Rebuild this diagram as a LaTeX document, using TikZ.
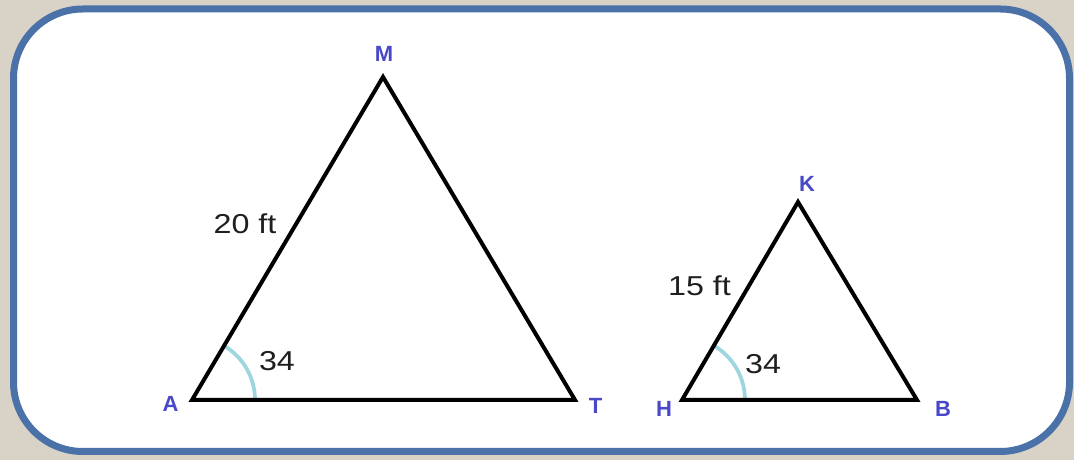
\documentclass[tikz,border=0pt]{standalone}
\usepackage{fontspec}
\setmainfont{Liberation Sans}
\newfontfamily\measfont[FakeStretch=1.18]{Liberation Sans}
\usepackage{tikz}
\usetikzlibrary{positioning,calc,backgrounds}
\definecolor{parchment}{HTML}{D9D3C7}
\definecolor{frameblue}{HTML}{4A72A8}
\definecolor{vertexblue}{HTML}{4848C8}
\definecolor{anglecyan}{HTML}{9ED6E0}
\tikzset{
  % ram
  frame/.style={draw=frameblue,fill=white,line width=5.25pt,rounded corners=52pt},
  % trianglar
  side/.style={draw=black,line width=3pt,line join=miter},
  anglearc/.style={draw=anglecyan,line width=2.8pt},
  vlab/.style={text=vertexblue,inner sep=0pt,
               font=\fontsize{16.5}{19}\selectfont\bfseries},
  mlab/.style={text=black!88,inner sep=0pt,font=\measfont\fontsize{20.5}{24}\selectfont},
}
\begin{document}
\begin{tikzpicture}[x=0.75pt,y=0.75pt]
  \fill[parchment] (0,0) rectangle (1074,460);
  \useasboundingbox (0,0) rectangle (1074,460);
  \path[frame] (13.5,8.5) rectangle (1069.5,451);
  % stora triangeln
  \coordinate (A) at (192,60);
  \coordinate (M) at (383,383);
  \coordinate (T) at (575,60);
  % lilla triangeln
  \coordinate (H) at (682,60);
  \coordinate (K) at (798,258);
  \coordinate (B) at (917,60);
  \draw[anglearc] (A) ++(63,0) arc[start angle=0,end angle=59.4,radius=63];
  \draw[anglearc] (H) ++(63,0) arc[start angle=0,end angle=59.6,radius=63];
  \draw[side] (A) -- (M) -- (T) -- cycle;
  \draw[side] (H) -- (K) -- (B) -- cycle;
  \node[vlab] (lM) at (384,406) {M};
  \node[vlab] (lA) at (170.5,56) {A};
  \node[vlab] (lT) at (595.5,54.5) {T};
  \node[vlab] (lH) at (664,51) {H};
  \node[vlab] (lK) at (807,276) {K};
  \node[vlab] (lB) at (943,51) {B};
  \node[mlab] (sAM) at (245,236) {20 ft};
  \node[mlab] (sHK) at (699.5,174) {15 ft};
  \node[mlab] (aA) at (277,99) {34};
  \node[mlab] (aH) at (763,96) {34};
\end{tikzpicture}
\end{document}
